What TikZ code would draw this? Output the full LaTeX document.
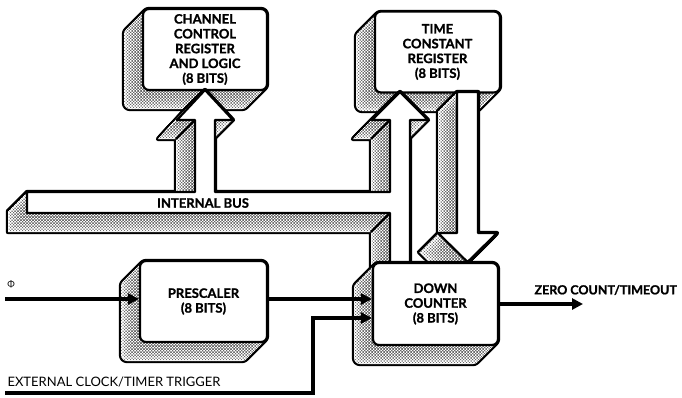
\documentclass[tikz,border=0pt]{standalone}
\usepackage{fontspec}
\setmainfont{Lato}[BoldFeatures={FakeBold=1.2}]
\usetikzlibrary{arrows.meta, patterns, calc}
\newcommand{\solid}[2]{%
  \foreach \sh in {0,...,19}{\draw[line width=4.4pt, line join=round, #1, shift={(-\sh,\sh)}] #2;}%
  \foreach \sh in {0,...,19}{\fill[white, #1, shift={(-\sh,\sh)}] #2;}%
  \foreach \sh in {0,...,19}{\fill[pattern=crosshatch dots, pattern color=black!60, #1, shift={(-\sh,\sh)}] #2;}%
}

\begin{document}
\begin{tikzpicture}[x=1pt, y=-1pt,
    every node/.style={font=\bfseries\fontsize{13}{14.8}\selectfont},
    regbox/.style={rectangle, draw, fill=white, rounded corners=6pt,
                   line width=2.2pt, minimum width=125pt,
                   minimum height=81pt, align=center, inner sep=0pt},
    face/.style={draw, fill=white, line width=2.2pt, line join=round},
    crease/.style={line width=2.2pt},
    sig/.style={-{Triangle[length=11pt, width=11pt]}, line width=3.6pt}
]
\useasboundingbox (0,0) rectangle (682,397);

\solid{rounded corners=6pt}{(143,9) rectangle (267,90)}
\solid{rounded corners=6pt}{(375,12) rectangle (500,92)}
\node[regbox, minimum width=124pt] (ccr) at (205,49.5)
     {CHANNEL\\CONTROL\\REGISTER\\AND LOGIC\\(8 BITS)};
\node[regbox] (tcr) at (437.5,52) {TIME\\CONSTANT\\REGISTER\\(8 BITS)};

\solid{}{(27,192) -- (195,192) -- (195,120) -- (177,120) -- (205,90)
         -- (233,120) -- (215,120) -- (215,192) -- (390,192) -- (390,120)
         -- (372,120) -- (400,92) -- (428,120) -- (410,120) -- (410,263)
         -- (390,263) -- (390,213) -- (27,213) -- cycle}
\solid{}{(457,92) -- (457,233) -- (438,233) -- (467.5,262) -- (497,233)
         -- (478,233) -- (478,92) -- cycle}
\draw[face] (27,192) -- (195,192) -- (195,120) -- (177,120) -- (205,90)
         -- (233,120) -- (215,120) -- (215,192) -- (390,192) -- (390,120)
         -- (372,120) -- (400,92) -- (428,120) -- (410,120) -- (410,263)
         -- (390,263) -- (390,213) -- (27,213) -- cycle;
\draw[face] (457,92) -- (457,233) -- (438,233) -- (467.5,262) -- (497,233)
         -- (478,233) -- (478,92) -- cycle;
\draw[crease] (195,120) -- ++(-19,19) (390,120) -- ++(-19,19)
              (390,213) -- ++(-19,19);

\solid{rounded corners=6pt}{(140,261) rectangle (267,342)}
\solid{rounded corners=6pt}{(373,263) rectangle (498,345)}
\node[regbox, minimum width=127pt] (psc) at (203.5,301.5) {PRESCALER\\(8 BITS)};
\node[regbox, minimum height=82pt] (dc) at (435.5,304) {DOWN\\COUNTER\\(8 BITS)};

\node (bus) at (203,203) {INTERNAL BUS};
\node[font=\fontsize{9}{9}\selectfont] (phi) at (11,284) {Φ};
\node[anchor=west, font=\bfseries\fontsize{12.5}{12.5}\selectfont] (zct)
     at (531,290) {ZERO COUNT/TIMEOUT};
\node[anchor=west, font=\fontsize{13}{13}\selectfont] (ext) at (4,382)
     {EXTERNAL CLOCK/TIMER TRIGGER};

\coordinate (phiin) at (5,299);
\coordinate (extin) at (5,393);
\coordinate (extbend) at (313,318);
\coordinate (zcout) at (583,304);

\draw[sig] (phiin) -- (phiin -| psc.west);
\draw[sig] (psc.east |- phiin) -- (dc.west |- phiin);
\draw[sig] (extin) -| (extbend) -- (extbend -| dc.west);
\draw[sig] (dc.east) -- (zcout);
\end{tikzpicture}
\end{document}
